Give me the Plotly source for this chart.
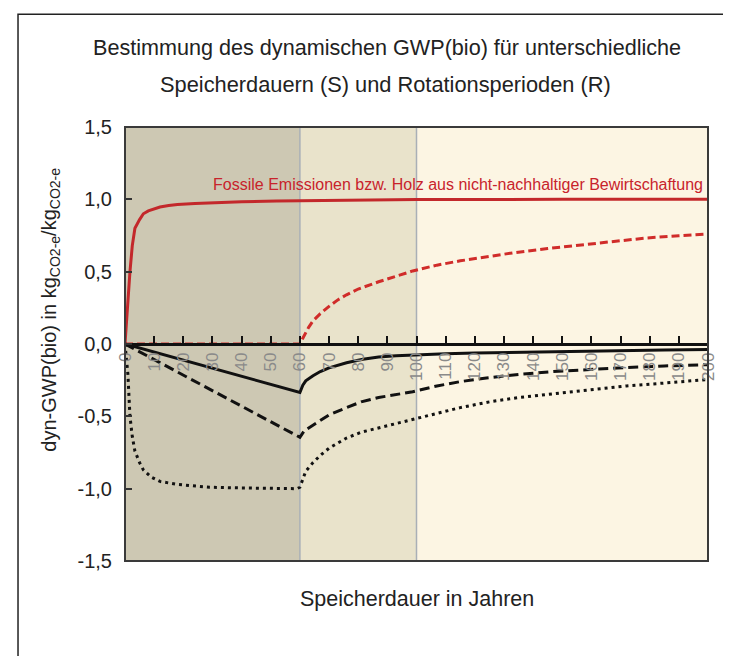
import plotly.graph_objects as go

# ---- data ----
fossil_x = [0, 0.3, 0.7, 1.1, 1.7, 2.5, 3.4, 5, 6.3, 8, 10, 12, 15, 18, 24, 29, 40, 52, 60, 80, 100, 150, 200]
fossil_y = [0, 0.1, 0.25, 0.38, 0.5, 0.68, 0.8, 0.86, 0.9, 0.92, 0.935, 0.947, 0.957, 0.965, 0.972, 0.977, 0.983, 0.988, 0.99, 0.995, 0.998, 1.0, 1.0]

red_dash_x = [0, 60, 61, 62, 63, 64.5, 67, 70, 73, 76, 80, 87, 93, 98.7, 107, 115, 125, 133, 145, 156, 168, 179, 190, 200]
red_dash_y = [0, 0, 0.04, 0.08, 0.115, 0.16, 0.21, 0.26, 0.305, 0.34, 0.38, 0.43, 0.47, 0.505, 0.545, 0.575, 0.605, 0.63, 0.66, 0.685, 0.71, 0.733, 0.748, 0.76]

solid_x = [0, 60, 61, 62, 64.5, 67, 70, 76, 81.6, 87, 93, 98.7, 110, 120, 135, 150, 170, 185, 200]
solid_y = [0, -0.335, -0.285, -0.255, -0.22, -0.19, -0.165, -0.13, -0.105, -0.09, -0.082, -0.076, -0.068, -0.062, -0.056, -0.051, -0.045, -0.041, -0.038]

dash_x = [0, 60, 61.5, 64.5, 70, 76, 81, 87, 93, 98.7, 107, 115, 124, 135, 147, 160, 172, 185, 200]
dash_y = [0, -0.645, -0.6, -0.56, -0.49, -0.44, -0.4, -0.37, -0.35, -0.33, -0.29, -0.26, -0.235, -0.21, -0.19, -0.175, -0.163, -0.152, -0.143]

dot_x = [0, 0.5, 1, 1.7, 2.5, 3.4, 5, 6.3, 9, 12, 17.7, 23, 29, 40, 59, 60, 61, 62, 64.5, 67, 70, 76, 81, 87, 93, 98.7, 107, 115, 125, 135, 149, 160, 172, 185, 200]
dot_y = [0, -0.1, -0.21, -0.5, -0.64, -0.74, -0.82, -0.87, -0.92, -0.95, -0.97, -0.98, -0.99, -0.995, -1.0, -0.99, -0.93, -0.88, -0.82, -0.77, -0.72, -0.65, -0.61, -0.58, -0.55, -0.52, -0.48, -0.44, -0.4, -0.37, -0.34, -0.315, -0.29, -0.27, -0.245]

x_tickvals = list(range(0, 201, 10))
x_ticktext = [str(v) for v in x_tickvals]
y_tickvals = [-1.5, -1.0, -0.5, 0.0, 0.5, 1.0, 1.5]
y_ticktext = ["-1,5", "-1,0", "-0,5", "0,0", "0,5", "1,0", "1,5"]

# shaded periods (years)
zones = [(0, 60, "#cdc8b3"), (60, 100, "#e9e3cb"), (100, 200, "#fcf5e3")]
zone_lines = [60, 100]

title1 = "Bestimmung des dynamischen GWP(bio) für unterschiedliche"
title2 = "Speicherdauern (S) und Rotationsperioden (R)"
x_title = "Speicherdauer in Jahren"
y_title = "dyn-GWP(bio) in kg<sub>CO2-e</sub>/kg<sub>CO2-e</sub>"
fossil_label = "Fossile Emissionen bzw. Holz aus nicht-nachhaltiger Bewirtschaftung"

FONT = "Liberation Sans, Arial, sans-serif"

fig = go.Figure()
fig.add_trace(go.Scatter(x=fossil_x, y=fossil_y, mode="lines",
                         line=dict(color="#c3282b", width=3)))
fig.add_trace(go.Scatter(x=red_dash_x, y=red_dash_y, mode="lines",
                         line=dict(color="#d02c2a", width=3, dash="8px,4px")))
fig.add_trace(go.Scatter(x=solid_x, y=solid_y, mode="lines",
                         line=dict(color="#111111", width=3)))
fig.add_trace(go.Scatter(x=dash_x, y=dash_y, mode="lines",
                         line=dict(color="#111111", width=3, dash="10px,5px")))
fig.add_trace(go.Scatter(x=dot_x, y=dot_y, mode="lines",
                         line=dict(color="#111111", width=3, dash="3px,4px")))

shapes = []
for x0, x1, c in zones:
    shapes.append(dict(type="rect", xref="x", yref="paper", x0=x0, x1=x1, y0=0, y1=1,
                       fillcolor=c, line=dict(width=0), layer="below"))
for xv in zone_lines:
    shapes.append(dict(type="line", xref="x", yref="paper", x0=xv, x1=xv, y0=0, y1=1,
                       line=dict(color="#a9afb6", width=1.5), layer="below"))
# plot frame
shapes.append(dict(type="rect", xref="paper", yref="paper", x0=0, x1=1, y0=0, y1=1,
                   line=dict(color="#3a3a3a", width=2), layer="above"))
# outer frame
shapes.append(dict(type="rect", xref="paper", yref="paper", x0=-0.1835, x1=1.029, y0=-0.3, y1=1.260,
                   line=dict(color="#222222", width=1.5), layer="above"))

annotations = [
    dict(text=title1, xref="paper", yref="paper", x=0.449, y=1.184, showarrow=False,
         xanchor="center", yanchor="middle", font=dict(size=21.6, color="#222222", family=FONT)),
    dict(text=title2, xref="paper", yref="paper", x=0.446, y=1.097, showarrow=False,
         xanchor="center", yanchor="middle", font=dict(size=21.8, color="#222222", family=FONT)),
    dict(text=x_title, xref="paper", yref="paper", x=0.5, y=-0.088, showarrow=False,
         xanchor="center", yanchor="middle", font=dict(size=21.5, color="#222222", family=FONT)),
    dict(text=y_title, xref="paper", yref="paper", x=-0.128, y=0.58, showarrow=False,
         textangle=-90, xanchor="center", yanchor="middle", font=dict(size=20, color="#222222", family=FONT)),
    dict(text=fossil_label, xref="x", yref="y", x=198.8, y=1.10, showarrow=False,
         xanchor="right", yanchor="middle", font=dict(size=16, color="#c8232b", family=FONT)),
]

# the page body adds an 8px offset; size the figure so the plot lands where the reference has it
fig.update_layout(
    width=723, height=648,
    margin=dict(l=117, r=23, t=119, b=95),
    paper_bgcolor="white", plot_bgcolor="#fcf5e3",
    showlegend=False,
    font=dict(family=FONT, color="#222222"),
    shapes=shapes, annotations=annotations,
    xaxis=dict(range=[0, 200], anchor="free", position=0.5, showline=True, linecolor="#111111",
               linewidth=2.5, ticks="inside", ticklen=7, tickwidth=1.5, tickcolor="#111111",
               tickvals=x_tickvals, ticktext=x_ticktext, tickangle=-90, showgrid=False, zeroline=False,
               tickfont=dict(size=17, color="#8a8a8a", family=FONT)),
    yaxis=dict(range=[-1.5, 1.5], showline=False, ticks="inside", ticklen=7, tickwidth=1.5,
               tickcolor="#333333", tickvals=y_tickvals, ticktext=y_ticktext, showgrid=False,
               zeroline=False, ticklabelstandoff=12,
               tickfont=dict(size=20, color="#222222", family=FONT)),
)

fig.write_html("out.html")
